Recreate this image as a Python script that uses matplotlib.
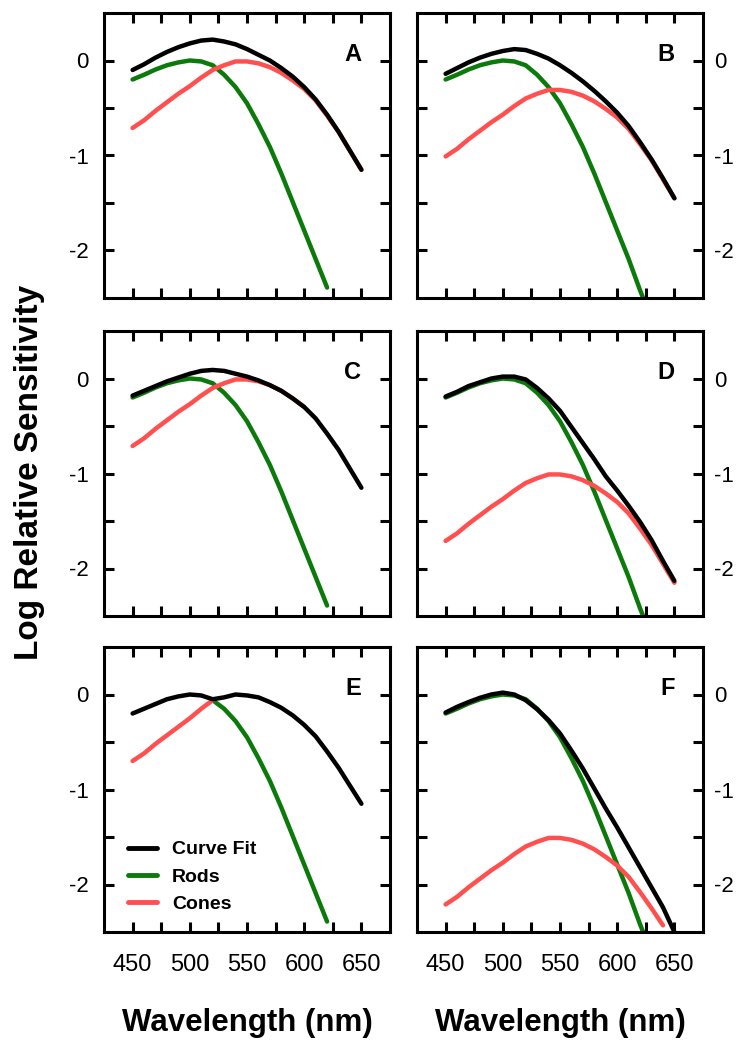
import matplotlib
matplotlib.use('Agg')
import matplotlib.pyplot as plt

plt.rcParams['font.family'] = ['Liberation Sans', 'DejaVu Sans']

# wavelength grid (nm)
wl = [450, 460, 470, 480, 490, 500, 510, 520, 530, 540, 550,
      560, 570, 580, 590, 600, 610, 620, 630, 640, 650]

# panel A
a_fit = [-0.10, -0.04, 0.03, 0.09, 0.14, 0.18, 0.21, 0.22, 0.20, 0.17, 0.12,
         0.06, 0.00, -0.08, -0.17, -0.28, -0.41, -0.57, -0.75, -0.95, -1.15]
a_rods = [-0.20, -0.15, -0.095, -0.05, -0.02, 0.00, -0.01, -0.05, -0.15, -0.28, -0.45,
          -0.67, -0.91, -1.19, -1.49, -1.79, -2.09, -2.39]
a_cones = [-0.71, -0.63, -0.53, -0.44, -0.35, -0.27, -0.18, -0.10, -0.05, -0.01, -0.01,
           -0.03, -0.07, -0.13, -0.21, -0.30, -0.42, -0.58, -0.75, -0.95, -1.15]

# panel B
b_fit = [-0.14, -0.08, -0.02, 0.03, 0.07, 0.10, 0.12, 0.11, 0.07, 0.02, -0.05,
         -0.13, -0.22, -0.32, -0.43, -0.55, -0.69, -0.86, -1.04, -1.24, -1.45]
b_rods = [-0.20, -0.15, -0.095, -0.05, -0.02, 0.00, -0.01, -0.05, -0.15, -0.28, -0.45,
          -0.67, -0.91, -1.19, -1.49, -1.79, -2.09, -2.42, -2.72]
b_cones = [-1.01, -0.93, -0.83, -0.74, -0.65, -0.57, -0.48, -0.40, -0.35, -0.31, -0.31,
           -0.33, -0.37, -0.43, -0.51, -0.60, -0.72, -0.88, -1.05, -1.25, -1.45]

# panel C
c_fit = [-0.18, -0.13, -0.08, -0.03, 0.01, 0.05, 0.08, 0.09, 0.08, 0.05, 0.02,
         -0.02, -0.07, -0.13, -0.21, -0.30, -0.42, -0.58, -0.75, -0.95, -1.15]
c_rods = [-0.20, -0.15, -0.095, -0.05, -0.02, 0.00, -0.01, -0.05, -0.15, -0.28, -0.45,
          -0.67, -0.91, -1.19, -1.49, -1.79, -2.09, -2.39]
c_cones = [-0.71, -0.63, -0.53, -0.44, -0.35, -0.27, -0.18, -0.10, -0.05, -0.01, -0.01,
           -0.03, -0.07, -0.13, -0.21, -0.30]

# panel D
d_fit = [-0.19, -0.14, -0.08, -0.04, 0.00, 0.02, 0.02, -0.01, -0.10, -0.21, -0.34,
         -0.51, -0.68, -0.85, -1.03, -1.18, -1.34, -1.51, -1.70, -1.92, -2.13]
d_rods = [-0.20, -0.15, -0.095, -0.05, -0.02, 0.00, -0.01, -0.05, -0.15, -0.28, -0.45,
          -0.67, -0.91, -1.19, -1.49, -1.79, -2.09, -2.42, -2.72]
d_cones = [-1.71, -1.63, -1.53, -1.44, -1.35, -1.27, -1.18, -1.10, -1.05, -1.01, -1.01,
           -1.03, -1.07, -1.13, -1.21, -1.30, -1.42, -1.58, -1.75, -1.95, -2.15]

# panel E (rods shown from 520 nm, cones up to 520 nm)
e_fit = [-0.20, -0.15, -0.10, -0.05, -0.02, 0.00, -0.01, -0.05, -0.03, 0.00, -0.01,
         -0.03, -0.08, -0.14, -0.22, -0.32, -0.44, -0.60, -0.77, -0.96, -1.15]
e_rods_wl = [520, 530, 540, 550, 560, 570, 580, 590, 600, 610, 620]
e_rods = [-0.06, -0.15, -0.28, -0.45, -0.67, -0.91, -1.19, -1.49, -1.79, -2.09, -2.39]
e_cones = [-0.70, -0.62, -0.52, -0.43, -0.34, -0.25, -0.15, -0.06]

# panel F
f_fit = [-0.19, -0.13, -0.08, -0.035, 0.00, 0.02, 0.00, -0.06, -0.155, -0.27, -0.41,
         -0.59, -0.78, -0.99, -1.20, -1.40, -1.61, -1.82, -2.03, -2.24, -2.50]
f_rods = [-0.20, -0.15, -0.095, -0.05, -0.02, 0.00, -0.01, -0.05, -0.15, -0.28, -0.45,
          -0.67, -0.91, -1.19, -1.49, -1.79, -2.09, -2.42, -2.72]
f_cones = [-2.21, -2.13, -2.03, -1.94, -1.85, -1.77, -1.68, -1.60, -1.55, -1.51, -1.51,
           -1.53, -1.57, -1.63, -1.71, -1.80, -1.92, -2.08, -2.25, -2.43]

panels = [
    ('A', wl, a_fit, wl[:len(a_rods)], a_rods, wl[:len(a_cones)], a_cones),
    ('B', wl, b_fit, wl[:len(b_rods)], b_rods, wl[:len(b_cones)], b_cones),
    ('C', wl, c_fit, wl[:len(c_rods)], c_rods, wl[:len(c_cones)], c_cones),
    ('D', wl, d_fit, wl[:len(d_rods)], d_rods, wl[:len(d_cones)], d_cones),
    ('E', wl, e_fit, e_rods_wl, e_rods, wl[:len(e_cones)], e_cones),
    ('F', wl, f_fit, wl[:len(f_rods)], f_rods, wl[:len(f_cones)], f_cones),
]

black = '#000000'
green = '#0b7a0b'
red = '#ff4f4f'

W, H = 746.0, 1050.0
lefts = [104 / W, 417 / W]
bottoms = [1 - 298 / H, 1 - 616 / H, 1 - 932 / H]
aw, ah = 286 / W, 285 / H

fig = plt.figure(figsize=(7.46, 10.5), dpi=100)

for i, (name, fx, fy, rx, ry, cx, cy) in enumerate(panels):
    row, col = i // 2, i % 2
    ax = fig.add_axes([lefts[col], bottoms[row], aw, ah])
    ax.plot(rx, ry, color=green, lw=3.2, solid_capstyle='round', label='Rods')
    ax.plot(cx, cy, color=red, lw=3.2, solid_capstyle='round', label='Cones')
    ax.plot(fx, fy, color=black, lw=3.2, solid_capstyle='round', label='Curve Fit')

    ax.set_xlim(425, 675)
    ax.set_ylim(-2.5, 0.5)
    ax.set_xticks([450, 475, 500, 525, 550, 575, 600, 625, 650])
    ax.set_xticklabels(['450', '', '500', '', '550', '', '600', '', '650'])
    ax.set_yticks([-2, -1.5, -1, -0.5, 0])
    ax.set_yticklabels(['-2', '', '-1', '', '0'])
    for s in ax.spines.values():
        s.set_linewidth(2.2)
    ax.tick_params(direction='in', top=True, right=True, length=7.5, width=2.2)
    ax.tick_params(axis='x', labelsize=17, pad=16, labelbottom=(row == 2))
    if col == 0:
        ax.tick_params(axis='y', labelsize=16, pad=11, labelleft=True, labelright=False)
    else:
        ax.tick_params(axis='y', labelsize=16, pad=8, labelleft=False, labelright=True)

    ax.text(0.90, 0.895, name, transform=ax.transAxes, ha='right', va='top',
            fontsize=17, fontweight='bold')

    if name == 'E':
        h, l = ax.get_legend_handles_labels()
        order = [2, 0, 1]
        leg = ax.legend([h[k] for k in order], [l[k] for k in order],
                        loc='center left', bbox_to_anchor=(0.084, 0.193),
                        frameon=False, borderpad=0, borderaxespad=0,
                        handlelength=1.5, handletextpad=0.75, labelspacing=0.5,
                        prop={'weight': 'bold', 'size': 14})
        for line in leg.get_lines():
            line.set_linewidth(3.5)

fig.text(30 / W, 1 - 472 / H, 'Log Relative Sensitivity', rotation=90,
         ha='center', va='center', fontsize=24, fontweight='bold')
fig.text(247 / W, 1 - 1023 / H, 'Wavelength (nm)', ha='center', va='center',
         fontsize=22.5, fontweight='bold')
fig.text(560 / W, 1 - 1023 / H, 'Wavelength (nm)', ha='center', va='center',
         fontsize=22.5, fontweight='bold')

fig.savefig('out.png', dpi=100)
